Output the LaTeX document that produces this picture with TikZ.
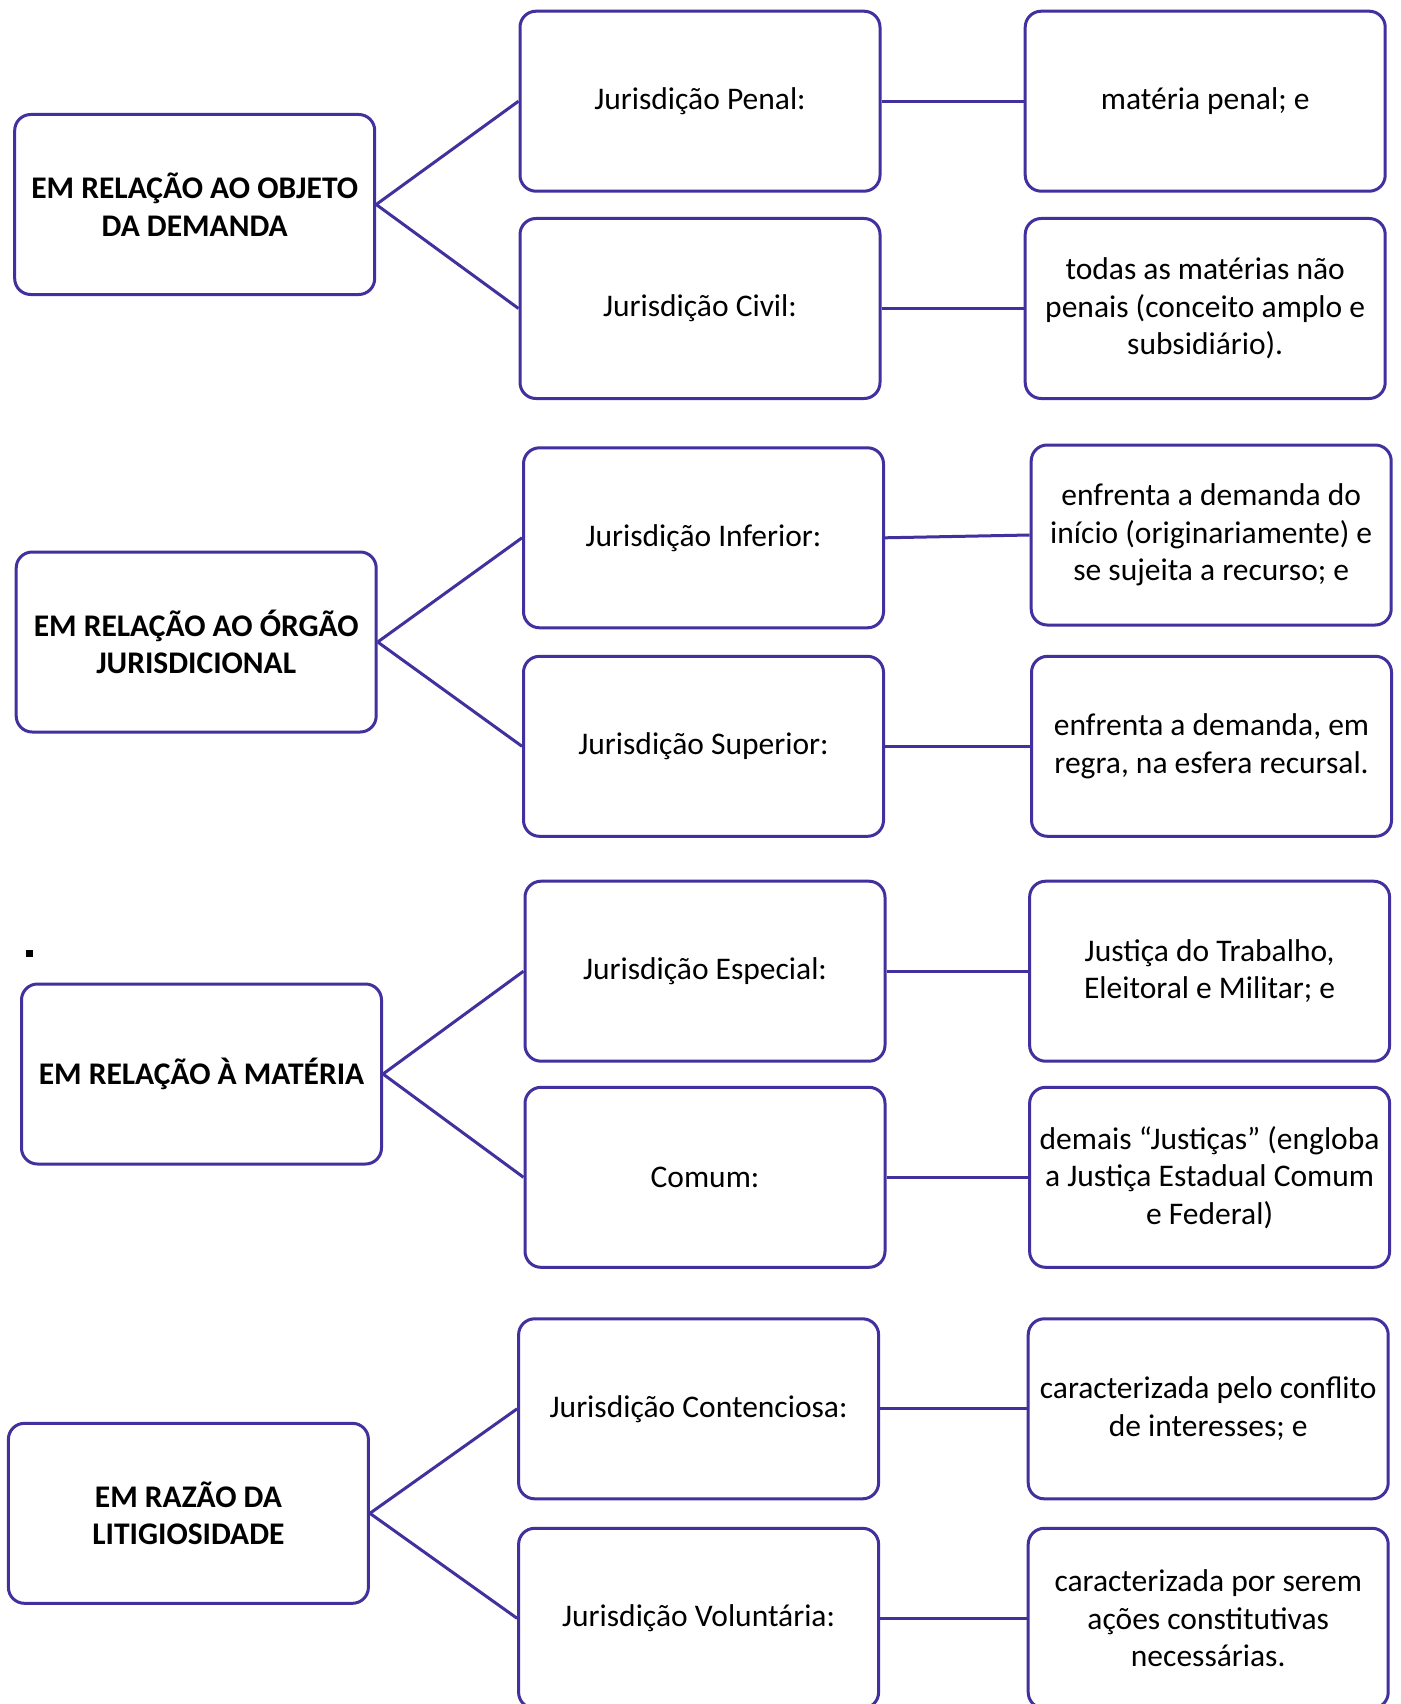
\documentclass[tikz,border=0pt]{standalone}
\usepackage{fontspec}
\setmainfont{Carlito}
\definecolor{boxline}{RGB}{64,49,158}
\begin{document}
\begin{tikzpicture}[x=1pt,y=-1pt,
  box/.style={draw=boxline, line width=3pt, rounded corners=16pt,
    minimum width=360pt, minimum height=180pt, inner sep=0pt,
    align=center, font=\fontsize{31.5}{37.5}\selectfont},
  head/.style={box, font=\fontsize{31.5}{37.5}\selectfont\bfseries},
  link/.style={draw=boxline, line width=3pt}]
\clip (0,0) rectangle (1400,1704);
\fill[white] (0,0) rectangle (1400,1704);

% Group 1
\node[head] (L1) at (194.7,204.5) {EM RELAÇÃO AO OBJETO\\DA DEMANDA};
\node[box] (M1a) at (700,101.2) {Jurisdição Penal:};
\node[box] (R1a) at (1205.2,101.2) {matéria penal; e};
\node[box] (M1b) at (700,308.5) {Jurisdição Civil:};
\node[box] (R1b) at (1205.2,308.5) {todas as matérias não\\penais (conceito amplo e\\subsidiário).};

% Group 2
\node[head] (L2) at (196.2,642) {EM RELAÇÃO AO ÓRGÃO\\JURISDICIONAL};
\node[box] (M2a) at (703.5,537.8) {Jurisdição Inferior:};
\node[box] (R2a) at (1211.2,535) {enfrenta a demanda do\\início (originariamente) e\\se sujeita a recurso; e};
\node[box] (M2b) at (703.5,746.3) {Jurisdição Superior:};
\node[box] (R2b) at (1211.5,746.3) {enfrenta a demanda, em\\regra, na esfera recursal.};

% Group 3
\fill[black] (25.5,949.5) rectangle (32.5,956.5);
\node[head] (L3) at (201.5,1074) {EM RELAÇÃO À MATÉRIA};
\node[box] (M3a) at (705,971.2) {Jurisdição Especial:};
\node[box] (R3a) at (1209.6,971.2) {Justiça do Trabalho,\\Eleitoral e Militar; e};
\node[box] (M3b) at (705,1177.3) {Comum:};
\node[box] (R3b) at (1209.6,1177.3) {demais “Justiças” (engloba\\a Justiça Estadual Comum\\e Federal)};

% Group 4
\node[head] (L4) at (188.4,1513.3) {EM RAZÃO DA\\LITIGIOSIDADE};
\node[box] (M4a) at (698.6,1408.8) {Jurisdição Contenciosa:};
\node[box] (R4a) at (1208.2,1408.8) {caracterizada pelo conflito\\de interesses; e};
\node[box] (M4b) at (698.6,1618.3) {Jurisdição Voluntária:};
\node[box] (R4b) at (1208.2,1618.3) {caracterizada por serem\\ações constitutivas\\necessárias.};

% Connectors
\foreach \g in {1,2,3,4}{
  \draw[link] (L\g.east) -- (M\g a.west);
  \draw[link] (L\g.east) -- (M\g b.west);
  \draw[link] (M\g a.east) -- (R\g a.west);
  \draw[link] (M\g b.east) -- (R\g b.west);
}
\end{tikzpicture}
\end{document}
